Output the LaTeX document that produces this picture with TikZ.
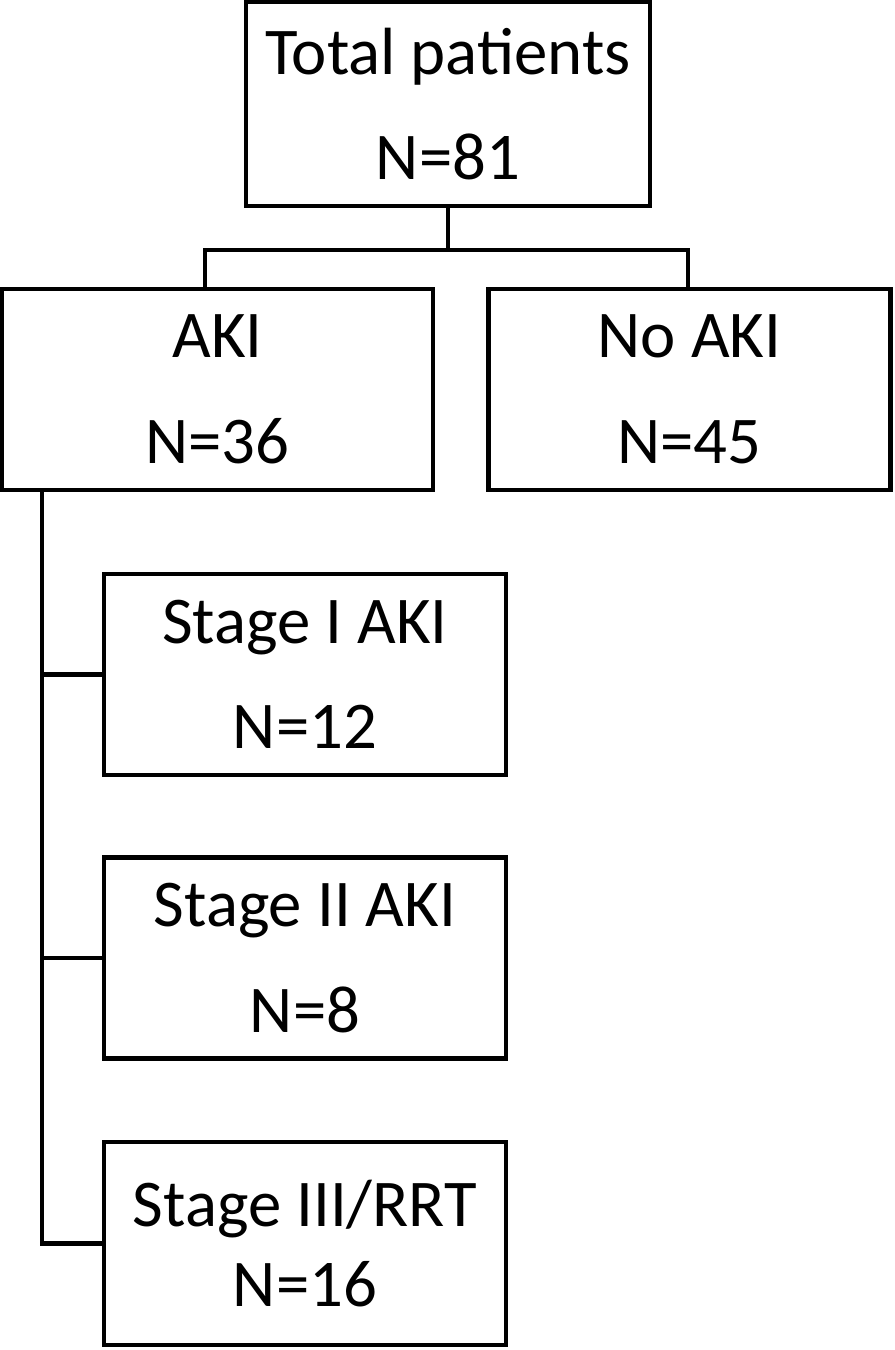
\documentclass[tikz,border=0pt]{standalone}
\usepackage{fontspec}
\setmainfont{Carlito}
\usetikzlibrary{positioning}

\tikzset{
	box/.style={draw, line width=1.2pt, align=center, inner sep=0pt,
		minimum width=4.02cm, minimum height=2.01cm,
		font=\fontsize{19}{30}\selectfont},
	link/.style={line width=1.2pt},
}

\begin{document}
\begin{tikzpicture}
	\useasboundingbox (0,0) rectangle (8.94,-13.5);
	% top level
	\node[box, minimum width=4.04cm, minimum height=2.04cm] (total) at (4.48,-1.04) {Total patients\\N=81};
	\node[box, minimum width=4.31cm] (aki) at (2.175,-3.895) {AKI\\N=36};
	\node[box] (noaki) at (6.895,-3.895) {No AKI\\N=45};
	% AKI stages
	\node[box] (stage1) at (3.05,-6.745) {Stage I AKI\\N=12};
	\node[box] (stage2) at (3.05,-9.58) {Stage II AKI\\N=8};
	\node[box, minimum height=2.03cm, font=\fontsize{19}{22.7}\selectfont] (stage3) at (3.05,-12.435) {Stage III/RRT\\N=16};

	\draw[link] (total.south) -- ++(0,-0.42) coordinate (split);
	\draw[link] ([xshift=-0.125cm]aki.north) |- (split) -| ([xshift=-0.015cm]noaki.north);
	\draw[link] ([xshift=0.42cm]aki.south west) |- (stage3.west);
	\foreach \s in {stage1,stage2}{
		\draw[link] (\s.west) -- ++(-0.6,0);
	}
\end{tikzpicture}
\end{document}
